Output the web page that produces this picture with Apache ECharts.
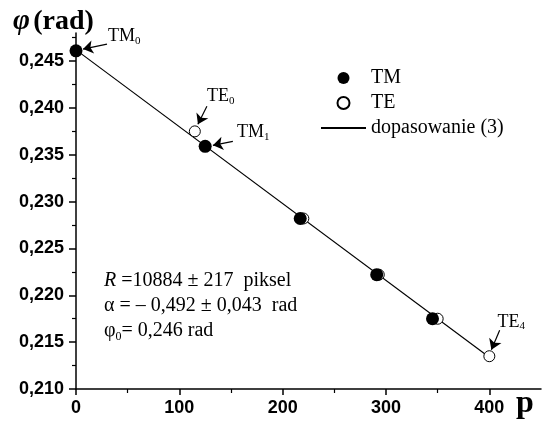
<!DOCTYPE html>
<html>
<head>
<meta charset="utf-8">
<script src="https://cdn.jsdelivr.net/npm/echarts@6/dist/echarts.min.js"></script>
<style>
  html, body { margin: 0; padding: 0; background: #fff; }
  #chart { width: 542px; height: 423px; }
</style>
</head>
<body>
<div id="chart"></div>
<script>
// measured points (phi in rad vs p)
const tmX = [0, 125, 217, 291, 345];
const tmY = [0.2461, 0.2359, 0.2282, 0.2222, 0.2175];
const teX = [115, 220, 293, 350, 400];
const teY = [0.2375, 0.2282, 0.2222, 0.2175, 0.2135];
// fitted line (3)
const fitX = [0, 400];
const fitY = [0.2462, 0.2134];

const xTicks = [0, 100, 200, 300, 400];
const yTicks = [0.210, 0.215, 0.220, 0.225, 0.230, 0.235, 0.240, 0.245];

// point labels: text, subscript, label anchor, arrow start, arrow end
const noteText = ['TM', 'TE', 'TM', 'TE'];
const noteSub = ['0', '0', '1', '4'];
const notePos = [[31, 0.2476], [126.7, 0.24125], [155.7, 0.2374], [408, 0.21716]];
const arrowFrom = [[30, 0.24682], [126.7, 0.24018], [151.8, 0.23643], [410, 0.21627]];
const arrowTo = [[6.8, 0.24628], [118, 0.23825], [132.5, 0.23601], [402, 0.2142]];

const serif = "'Liberation Serif', 'Times New Roman', serif";
const sans = "'Liberation Sans', Arial, sans-serif";

const chart = echarts.init(document.getElementById('chart'));

const option = {
  animation: false,
  grid: { left: 76, right: 1, top: 33, bottom: 34 },
  legend: {
    data: [
      'TM',
      'TE',
      { name: 'dopasowanie (3)', itemStyle: { color: 'rgba(0,0,0,0)', borderWidth: 0, opacity: 0 } }
    ],
    orient: 'vertical',
    left: 320,
    top: 68,
    padding: 0,
    itemWidth: 45,
    itemHeight: 12,
    itemGap: 5,
    textStyle: { fontFamily: serif, fontSize: 20, color: '#000' }
  },
  xAxis: {
    type: 'value',
    min: 0,
    max: 450,
    interval: 100,
    splitLine: { show: false },
    axisLine: { lineStyle: { color: '#000', width: 1.5 } },
    axisTick: { inside: false, length: 6, customValues: xTicks, lineStyle: { color: '#000', width: 1.5 } },
    minorTick: { show: true, splitNumber: 2, length: 4, lineStyle: { color: '#000', width: 1.2 } },
    axisLabel: {
      customValues: xTicks,
      margin: 10,
      color: '#000',
      fontFamily: sans,
      fontWeight: 'bold',
      fontSize: 18
    }
  },
  yAxis: {
    type: 'value',
    min: 0.21,
    max: 0.248,
    interval: 0.005,
    splitLine: { show: false },
    axisLine: { lineStyle: { color: '#000', width: 1.5 } },
    axisTick: { inside: false, length: 7, customValues: yTicks, lineStyle: { color: '#000', width: 1.5 } },
    minorTick: { show: true, splitNumber: 2, length: 4, lineStyle: { color: '#000', width: 1.2 } },
    axisLabel: {
      customValues: yTicks,
      margin: 12,
      color: '#000',
      fontFamily: sans,
      fontWeight: 'bold',
      fontSize: 18,
      formatter: v => v.toFixed(3).replace('.', ',')
    }
  },
  series: [
    {
      name: 'dopasowanie (3)',
      type: 'line',
      data: fitX.map((x, i) => [x, fitY[i]]),
      symbol: 'none',
      lineStyle: { color: '#000', width: 1.2 },
      itemStyle: { color: '#000' },
      z: 1,
      markLine: {
        silent: true,
        symbol: ['none', 'arrow'],
        symbolSize: 10,
        lineStyle: { color: '#000', width: 1.2, type: 'solid' },
        label: { show: false },
        data: arrowFrom.map((p, i) => [{ coord: p }, { coord: arrowTo[i] }])
      }
    },
    {
      name: 'TE',
      type: 'scatter',
      data: teX.map((x, i) => [x, teY[i]]),
      symbol: 'circle',
      symbolSize: 11,
      itemStyle: { color: '#fff', borderColor: '#000', borderWidth: 1, opacity: 1 },
      z: 2
    },
    {
      name: 'TM',
      type: 'scatter',
      data: tmX.map((x, i) => [x, tmY[i]]),
      symbol: 'circle',
      symbolSize: 13,
      itemStyle: { color: '#000', opacity: 1 },
      z: 3
    }
  ]
};

chart.setOption(option);

const graphics = [
  {
    type: 'text',
    style: {
      x: 13, y: 22,
      verticalAlign: 'middle',
      text: '{a|φ} {b|(rad)}',
      rich: {
        a: { fontFamily: serif, fontStyle: 'italic', fontWeight: 'bold', fontSize: 29, fill: '#000' },
        b: { fontFamily: serif, fontWeight: 'bold', fontSize: 28, fill: '#000' }
      }
    }
  },
  {
    type: 'text',
    style: {
      x: 516, y: 404,
      verticalAlign: 'middle',
      text: 'p',
      font: 'bold 32px ' + serif,
      fill: '#000'
    }
  },
  {
    type: 'text',
    style: {
      x: 104, y: 268,
      verticalAlign: 'top',
      text: '{i|R}{n| =10884 ± 217  piksel}\n{n|α = – 0,492 ± 0,043  rad}\n{n|φ}{s|0}{n|= 0,246 rad}',
      rich: {
        i: { fontFamily: serif, fontStyle: 'italic', fontSize: 20, lineHeight: 25, fill: '#000' },
        n: { fontFamily: serif, fontSize: 20, lineHeight: 25, fill: '#000' },
        s: { fontFamily: serif, fontSize: 12, lineHeight: 8, verticalAlign: 'bottom', fill: '#000' }
      }
    }
  }
];

notePos.forEach((p, i) => {
  const px = chart.convertToPixel({ gridIndex: 0 }, p);
  graphics.push({
    type: 'text',
    style: {
      x: px[0], y: px[1],
      verticalAlign: 'middle',
      text: '{m|' + noteText[i] + '}{s|' + noteSub[i] + '}',
      rich: {
        m: { fontFamily: serif, fontSize: 18, lineHeight: 20, fill: '#000' },
        s: { fontFamily: serif, fontSize: 11, lineHeight: 4, verticalAlign: 'bottom', fill: '#000' }
      }
    }
  });
});

chart.setOption({ graphic: graphics });

window.addEventListener('resize', () => {
  chart.resize();
});
</script>
</body>
</html>
